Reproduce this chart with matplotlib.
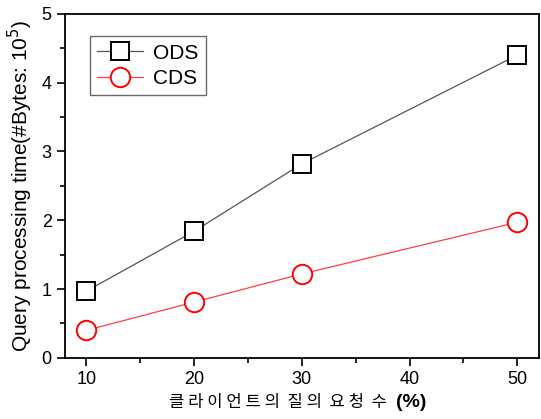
import matplotlib
matplotlib.use('Agg')
import matplotlib.pyplot as plt
from matplotlib.ticker import MultipleLocator

# Data
x_vals = [10, 20, 30, 50]
ods_vals = [0.97, 1.84, 2.82, 4.40]
cds_vals = [0.40, 0.81, 1.22, 1.97]
x_ticks = [10, 20, 30, 40, 50]
y_ticks = [0, 1, 2, 3, 4, 5]

plt.rcParams['font.family'] = ['Liberation Sans', 'DejaVu Sans']

fig = plt.figure(figsize=(5.41, 4.19), dpi=100)
ax = fig.add_axes([0.120, 0.146, 0.876, 0.821])

ax.plot(x_vals, ods_vals, color='#555555', lw=0.9, marker='s', ms=13,
        mfc='white', mec='black', mew=1.4, label='ODS')
ax.plot(x_vals, cds_vals, color='#ff4040', lw=0.9, marker='o', ms=14,
        mfc='white', mec='red', mew=1.4, label='CDS')

ax.set_xlim(8, 52)
ax.set_ylim(0, 5)
ax.set_xticks(x_ticks)
ax.set_yticks(y_ticks)
ax.xaxis.set_minor_locator(MultipleLocator(5))
ax.yaxis.set_minor_locator(MultipleLocator(0.5))
ax.tick_params(which='major', direction='out', length=6, width=1.2, labelsize=13)
ax.tick_params(which='minor', direction='out', length=3.5, width=1.2)
for s in ax.spines.values():
    s.set_linewidth(1.3)

ax.set_ylabel('Query processing time(#Bytes: 10$^5$)', fontsize=15, labelpad=5)

xl = ax.set_xlabel('클 라 이 언 트 의  질 의  요 청  수', fontsize=12,
                   family=['Noto Sans CJK KR', 'DejaVu Sans'], labelpad=4)
xl.set_x(0.5 - 0.05)
fig.canvas.draw()
bb = xl.get_window_extent()
inv = fig.transFigure.inverted()
x1, y0 = inv.transform((bb.x1 + 9, bb.y0 + bb.height * 0.5))
fig.text(x1, y0, '(%)', fontsize=14, fontweight='bold', va='center', ha='left')

leg = ax.legend(loc='upper left', bbox_to_anchor=(0.03, 0.965), fontsize=15,
                frameon=True, fancybox=False, edgecolor='#444444',
                handlelength=2.2, borderpad=0.35, labelspacing=0.3,
                handletextpad=0.5)
leg.get_frame().set_linewidth(1.0)

plt.savefig('out.png', dpi=100)
